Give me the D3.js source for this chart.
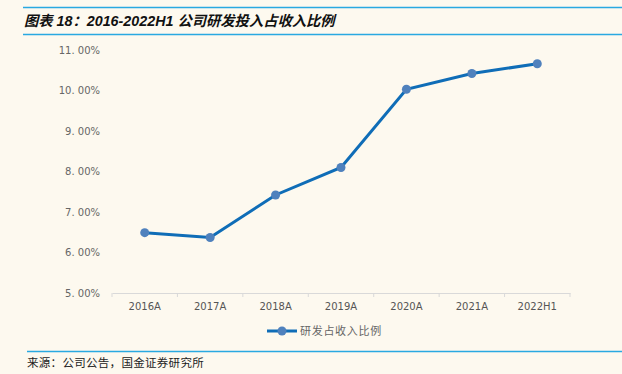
<!DOCTYPE html>
<html>
<head>
<meta charset="utf-8">
<script src="https://cdn.jsdelivr.net/npm/d3@7"></script>
<style>
  html, body { margin: 0; padding: 0; background: #fdf9ef; }
  svg { display: block; }
</style>
</head>
<body>
<div id="chart-area"></div>
<script>
// data
const categories = ["2016A", "2017A", "2018A", "2019A", "2020A", "2021A", "2022H1"]
const ratio = [6.49, 6.37, 7.42, 8.10, 10.03, 10.42, 10.66]
const yTicks = [5, 6, 7, 8, 9, 10, 11]
const seriesName = "研发占收入比例"
const titleText = "图表 18：2016-2022H1 公司研发投入占收入比例"
const sourceText = "来源：公司公告，国金证券研究所"

const W = 622, H = 374
const MARGIN = {LEFT: 112, RIGHT: 52, TOP: 50, BOTTOM: 81}
const WIDTH = W - MARGIN.LEFT - MARGIN.RIGHT
const HEIGHT = H - MARGIN.TOP - MARGIN.BOTTOM

const svg = d3.select("#chart-area").append("svg")
  .attr("width", W)
  .attr("height", H)

svg.append("rect").attr("width", W).attr("height", H).attr("fill", "#fdf9ef")

// title band
svg.append("line").attr("x1", 23).attr("x2", W).attr("y1", 7.5).attr("y2", 7.5)
  .attr("stroke", "#29a9e1").attr("stroke-width", 1.5)
svg.append("line").attr("x1", 23).attr("x2", W).attr("y1", 34.5).attr("y2", 34.5)
  .attr("stroke", "#29a9e1").attr("stroke-width", 1.5)
svg.append("text")
  .attr("x", 24).attr("y", 26)
  .attr("font-family", "'Liberation Sans', 'Noto Sans CJK SC', sans-serif")
  .attr("font-size", "14.3px")
  .attr("font-weight", "bold")
  .attr("font-style", "italic")
  .attr("fill", "#111")
  .text(titleText)

const g = svg.append("g")
  .attr("transform", `translate(${MARGIN.LEFT}, ${MARGIN.TOP})`)

const x = d3.scaleBand()
  .domain(categories)
  .range([0, WIDTH])

const y = d3.scaleLinear()
  .domain([5, 11])
  .range([HEIGHT, 0])

// y axis labels only
const yAxis = g.append("g")
  .call(d3.axisLeft(y).tickValues(yTicks).tickSize(0).tickPadding(12)
    .tickFormat(d => d3.format(".2f")(d).replace(".", ". ") + "%"))
yAxis.select(".domain").remove()
yAxis.selectAll("text")
  .attr("font-family", "'DejaVu Sans', sans-serif")
  .attr("font-size", "10px")
  .attr("fill", "#666")

// x axis
const xAxis = g.append("g")
  .attr("transform", `translate(0, ${HEIGHT})`)
  .call(d3.axisBottom(x).tickSize(0).tickPadding(10))
xAxis.select(".domain").attr("stroke", "#d9d9d9")
xAxis.selectAll("text")
  .attr("font-family", "'DejaVu Sans', sans-serif")
  .attr("font-size", "10px")
  .attr("fill", "#555")
// boundary ticks between bands
const bounds = categories.map(c => x(c)).concat([WIDTH])
g.selectAll(".xb").data(bounds).enter().append("line")
  .attr("x1", d => d).attr("x2", d => d)
  .attr("y1", HEIGHT).attr("y2", HEIGHT + 4)
  .attr("stroke", "#d9d9d9")

// line
const cx = d => x(d) + x.bandwidth() / 2
const line = d3.line()
  .x((d, i) => cx(categories[i]))
  .y(d => y(d))

g.append("path")
  .datum(ratio)
  .attr("fill", "none")
  .attr("stroke", "#0f6db7")
  .attr("stroke-width", 3)
  .attr("d", line)

g.selectAll(".pt").data(ratio).enter().append("circle")
  .attr("cx", (d, i) => cx(categories[i]))
  .attr("cy", d => y(d))
  .attr("r", 4.5)
  .attr("fill", "#4f81bd")

// legend
const lg = svg.append("g").attr("transform", "translate(267, 331)")
lg.append("line").attr("x1", 0).attr("x2", 30).attr("y1", 0).attr("y2", 0)
  .attr("stroke", "#0f6db7").attr("stroke-width", 3)
lg.append("circle").attr("cx", 15).attr("cy", 0).attr("r", 4.5).attr("fill", "#4f81bd")
lg.append("text")
  .attr("x", 33).attr("y", 4)
  .attr("font-family", "'Noto Sans CJK SC', sans-serif")
  .attr("font-size", "11px")
  .attr("letter-spacing", "0.7px")
  .attr("fill", "#666")
  .text(seriesName)

// source
svg.append("line").attr("x1", 27).attr("x2", W).attr("y1", 351.5).attr("y2", 351.5)
  .attr("stroke", "#29a9e1").attr("stroke-width", 1.5)
svg.append("text")
  .attr("x", 27).attr("y", 367)
  .attr("font-family", "'Noto Sans CJK SC', sans-serif")
  .attr("font-size", "11.5px")
  .attr("letter-spacing", "0.3px")
  .attr("fill", "#222")
  .text(sourceText)
</script>
</body>
</html>
